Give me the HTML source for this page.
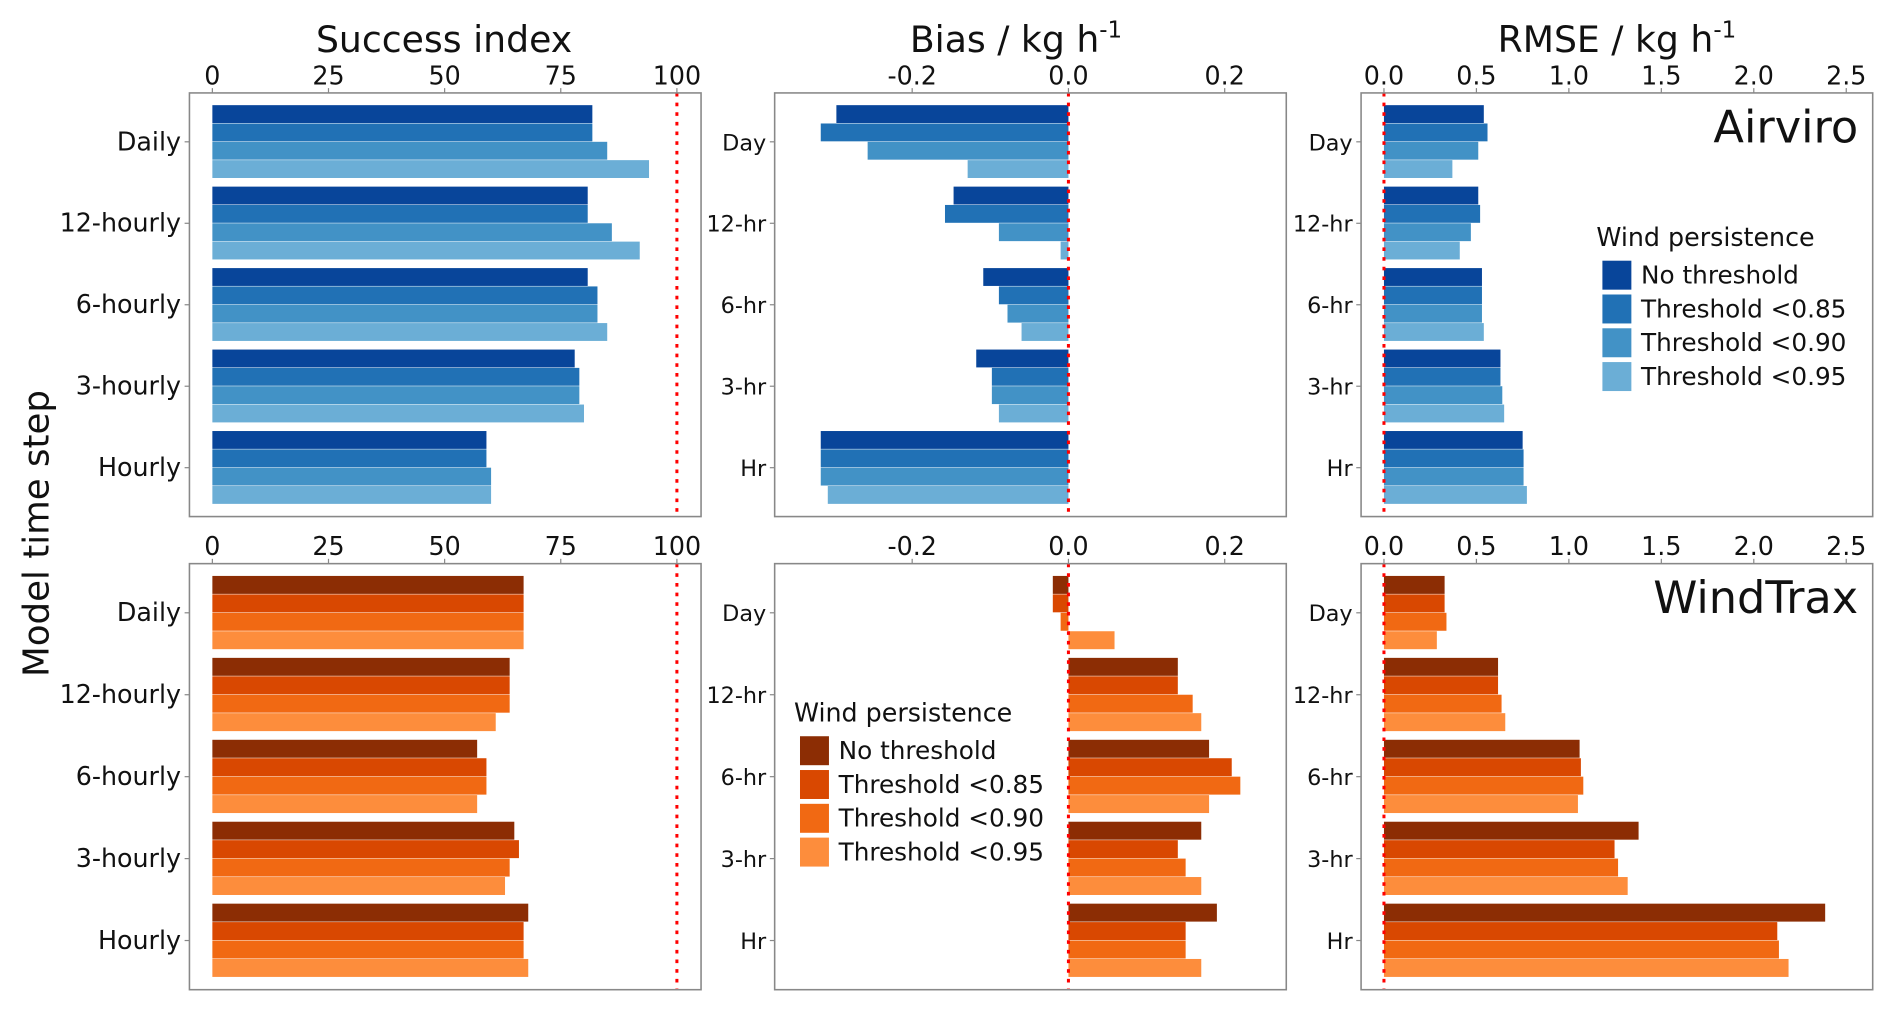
<!DOCTYPE html>
<html><head><meta charset="utf-8"><style>
html,body{margin:0;padding:0;background:#fff}
svg{display:block}
text{font-family:"DejaVu Sans","Liberation Sans",sans-serif;fill:#111}
.tk{font-size:21px}
</style></head><body>
<svg id="chart" width="1892" height="1009" viewBox="0 0 1568 836" preserveAspectRatio="none" xmlns="http://www.w3.org/2000/svg">
<text x="368" y="43" font-size="30" text-anchor="middle">Success index</text>
<text x="842" y="43" font-size="30" text-anchor="middle">Bias / kg h<tspan dy="-12" font-size="19">-1</tspan></text>
<text x="1340" y="43" font-size="30" text-anchor="middle">RMSE / kg h<tspan dy="-12" font-size="19">-1</tspan></text>
<text transform="translate(40,442) rotate(-90)" font-size="29.5" text-anchor="middle">Model time step</text>
<g id="plots"></g>
<text x="1540" y="118" font-size="37" text-anchor="end">Airviro</text>
<text x="1540" y="508" font-size="37" text-anchor="end">WindTrax</text>
<g id="legends"></g>
</svg>
<script>
const catsTop = ["Daily","12-hourly","6-hourly","3-hourly","Hourly"];
const catsShort = ["Day","12-hr","6-hr","3-hr","Hr"];
const seriesNames = ["No threshold","Threshold <0.85","Threshold <0.90","Threshold <0.95"];
const blues = ["#08459a","#2171b5","#4292c6","#6baed6"];
const oranges = ["#8c2d04","#d94801","#f16913","#fd8d3c"];
// values[category][series]
const successAirviro = [[81.8,81.8,85,94],[80.8,80.8,86,92],[80.8,82.9,82.9,85],[78,79,79,80],[59,59,60,60]];
const successWindTrax = [[67,67,67,67],[64,64,64,61],[57,59,59,57],[65,66,64,63],[68,67,67,68]];
const biasAirviro = [[-0.297,-0.317,-0.257,-0.129],[-0.147,-0.158,-0.089,-0.01],[-0.109,-0.089,-0.078,-0.06],[-0.118,-0.098,-0.098,-0.089],[-0.317,-0.317,-0.317,-0.308]];
const biasWindTrax = [[-0.02,-0.02,-0.01,0.059],[0.14,0.14,0.159,0.17],[0.18,0.209,0.22,0.18],[0.17,0.14,0.15,0.17],[0.19,0.15,0.15,0.17]];
const rmseAirviro = [[0.54,0.56,0.51,0.37],[0.51,0.52,0.47,0.41],[0.53,0.53,0.53,0.54],[0.63,0.63,0.64,0.65],[0.75,0.755,0.755,0.773]];
const rmseWindTrax = [[0.328,0.328,0.338,0.286],[0.617,0.617,0.636,0.656],[1.058,1.065,1.078,1.049],[1.377,1.247,1.266,1.318],[2.386,2.127,2.136,2.188]];
const successTicks = [0,25,50,75,100];
const successTickLabels = ["0","25","50","75","100"];
const biasTicks = [-0.2,0,0.2];
const biasTickLabels = ["-0.2","0.0","0.2"];
const rmseTicks = [0,0.5,1,1.5,2,2.5];
const rmseTickLabels = ["0.0","0.5","1.0","1.5","2.0","2.5"];

const NS="http://www.w3.org/2000/svg";
function mk(tag,attrs,parent){const e=document.createElementNS(NS,tag);for(const k in attrs)e.setAttribute(k,attrs[k]);parent.appendChild(e);return e;}
const plots=document.getElementById('plots');

const rows=[{top:77,bot:428},{top:467,bot:820}];
const panels=[
 {x0:157,x1:581,dom:[-4.935,105.2],ticks:successTicks,labels:successTickLabels,ref:100,cats:catsTop,data:[successAirviro,successWindTrax],name:'success',catSize:21},
 {x0:642,x1:1066,dom:[-0.376,0.2788],ticks:biasTicks,labels:biasTickLabels,ref:0,cats:catsShort,data:[biasAirviro,biasWindTrax],name:'bias',catSize:18.5},
 {x0:1128,x1:1552,dom:[-0.1237,2.643],ticks:rmseTicks,labels:rmseTickLabels,ref:0,cats:catsShort,data:[rmseAirviro,rmseWindTrax],name:'rmse',catSize:18.5}
];
const palettes=[blues,oranges];
const rowNames=['airviro','windtrax'];

panels.forEach(p=>{
 const sx=v=>p.x0+(v-p.dom[0])/(p.dom[1]-p.dom[0])*(p.x1-p.x0);
 rows.forEach((r,ri)=>{
  const g=mk('g',{},plots);
  
  
  const h=r.bot-r.top;
  const step=h/5.2;
  const yc=i=>r.top+step*(i+0.6);
  const bw=step*0.9/4;
  p.data[ri].forEach((vals,ci)=>{
   vals.forEach((v,si)=>{
    const a=sx(0),b=sx(v);
    const rc=mk('rect',{x:Math.min(a,b),y:yc(ci)-step*0.45+si*bw,width:Math.abs(b-a),height:bw-0.4,fill:palettes[ri][si]},g);
    
    
   });
   mk('line',{x1:p.x0-4,x2:p.x0,y1:yc(ci),y2:yc(ci),stroke:'#888','stroke-width':1},g);
   const t=mk('text',{x:p.x0-7,y:yc(ci)+7,'text-anchor':'end','font-size':p.catSize},g);
   t.textContent=p.cats[ci];
   
   
  });
  const rl=mk('line',{x1:sx(p.ref),x2:sx(p.ref),y1:r.top,y2:r.bot,stroke:'#f00','stroke-width':2.5,'stroke-dasharray':'3,5'},g);
  
  
  const bx=mk('rect',{x:p.x0,y:r.top,width:p.x1-p.x0,height:h,fill:'none',stroke:'#888','stroke-width':1.3},g);
  
  
  p.ticks.forEach((tv,ti)=>{
   mk('line',{x1:sx(tv),x2:sx(tv),y1:r.top-4,y2:r.top,stroke:'#888','stroke-width':1},g);
   const t=mk('text',{x:sx(tv),y:r.top-7,'text-anchor':'middle',class:'tk'},g);
   t.textContent=p.labels[ti];
   
   
  });
 });
});

const legends=document.getElementById('legends');
[{x:1323,y:197,pal:blues,n:'legend-airviro'},{x:658,y:591,pal:oranges,n:'legend-windtrax'}].forEach(L=>{
 const g=mk('g',{},legends);
 
 
 const tt=mk('text',{x:L.x,y:L.y+7,'font-size':21},g);
 tt.textContent='Wind persistence';
 
 
 seriesNames.forEach((s,i)=>{
  const y=L.y+19+i*28;
  const sq=mk('rect',{x:L.x+5,y:y,width:24,height:24,fill:L.pal[i]},g);
  
  
  const t=mk('text',{x:L.x+37,y:y+19,'font-size':20.5},g);
  t.textContent=s;
  
  
 });
});
</script>
</body></html>
